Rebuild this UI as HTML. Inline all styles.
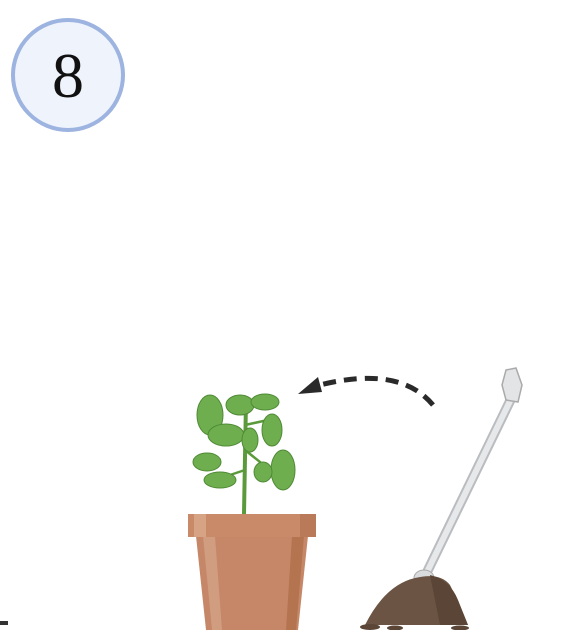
<!DOCTYPE html>
<html><head><meta charset="utf-8"><style>
html,body{margin:0;padding:0;background:#fff;width:582px;height:630px;overflow:hidden}
</style></head><body>
<svg width="582" height="630" viewBox="0 0 582 630">
  <g>
    <circle cx="68" cy="75" r="55" fill="#eef3fc" stroke="#9db3e0" stroke-width="4"/>
    <text x="68" y="97" text-anchor="middle" font-family="Liberation Serif, serif" font-size="64" fill="#111">8</text>
  </g>
  <rect x="0" y="621" width="8" height="4" fill="#333"/>
  <g>
    <path d="M433 405 Q400 365 320 385" fill="none" stroke="#2a2a2a" stroke-width="5" stroke-dasharray="13 8"/>
    <polygon points="298,394 318,377 322,392" fill="#2a2a2a"/>
  </g>
  <g fill="#6fae4f" stroke="#4f8a35" stroke-width="1">
    <path d="M244 514 L246 400" stroke="#5a9a3a" stroke-width="4" fill="none"/>
    <path d="M245 470 L215 480 M245 450 L270 470 M245 440 L220 430 M245 425 L268 420" stroke="#5a9a3a" stroke-width="2.5" fill="none"/>
    <ellipse cx="210" cy="415" rx="13" ry="20"/>
    <ellipse cx="226" cy="435" rx="18" ry="11"/>
    <ellipse cx="207" cy="462" rx="14" ry="9"/>
    <ellipse cx="220" cy="480" rx="16" ry="8"/>
    <ellipse cx="240" cy="405" rx="14" ry="10"/>
    <ellipse cx="265" cy="402" rx="14" ry="8"/>
    <ellipse cx="272" cy="430" rx="10" ry="16"/>
    <ellipse cx="283" cy="470" rx="12" ry="20"/>
    <ellipse cx="263" cy="472" rx="9" ry="10"/>
    <ellipse cx="250" cy="440" rx="8" ry="12"/>
  </g>
  <g>
    <polygon points="196,536 308,536 298,630 206,630" fill="#c58767"/>
    <polygon points="203,536 215,536 222,630 212,630" fill="#d19d80"/>
    <polygon points="292,536 304,536 296,630 286,630" fill="#b4744f"/>
    <rect x="188" y="514" width="128" height="23" fill="#c98a69"/>
    <rect x="194" y="514" width="12" height="23" fill="#d6a384"/>
    <rect x="300" y="514" width="16" height="23" fill="#b87a58"/>
  </g>
  <g>
    <path d="M512 397 L428 570" stroke="#b9bcc0" stroke-width="10" stroke-linecap="round"/>
    <path d="M512 397 L428 570" stroke="#e6e8ea" stroke-width="6" stroke-linecap="round"/>
    <path d="M506 370 L516 368 L522 385 L518 402 L506 400 L502 385 Z" fill="#e2e4e6" stroke="#aaa" stroke-width="1.5"/>
    <ellipse cx="424" cy="578" rx="10" ry="8" fill="#d9dbdd" stroke="#aaa"/>
  </g>
  <g>
    <path d="M365 625 Q385 585 415 578 Q440 572 450 585 Q460 605 468 625 Z" fill="#6b5443"/>
    <path d="M430 575 Q450 580 458 600 Q464 615 468 625 L440 625 Z" fill="#5a4536"/>
    <ellipse cx="370" cy="627" rx="10" ry="3" fill="#5a4536"/>
    <ellipse cx="395" cy="628" rx="8" ry="2.5" fill="#5a4536"/>
    <ellipse cx="460" cy="628" rx="9" ry="2.5" fill="#5a4536"/>
  </g>
</svg>
</body></html>
